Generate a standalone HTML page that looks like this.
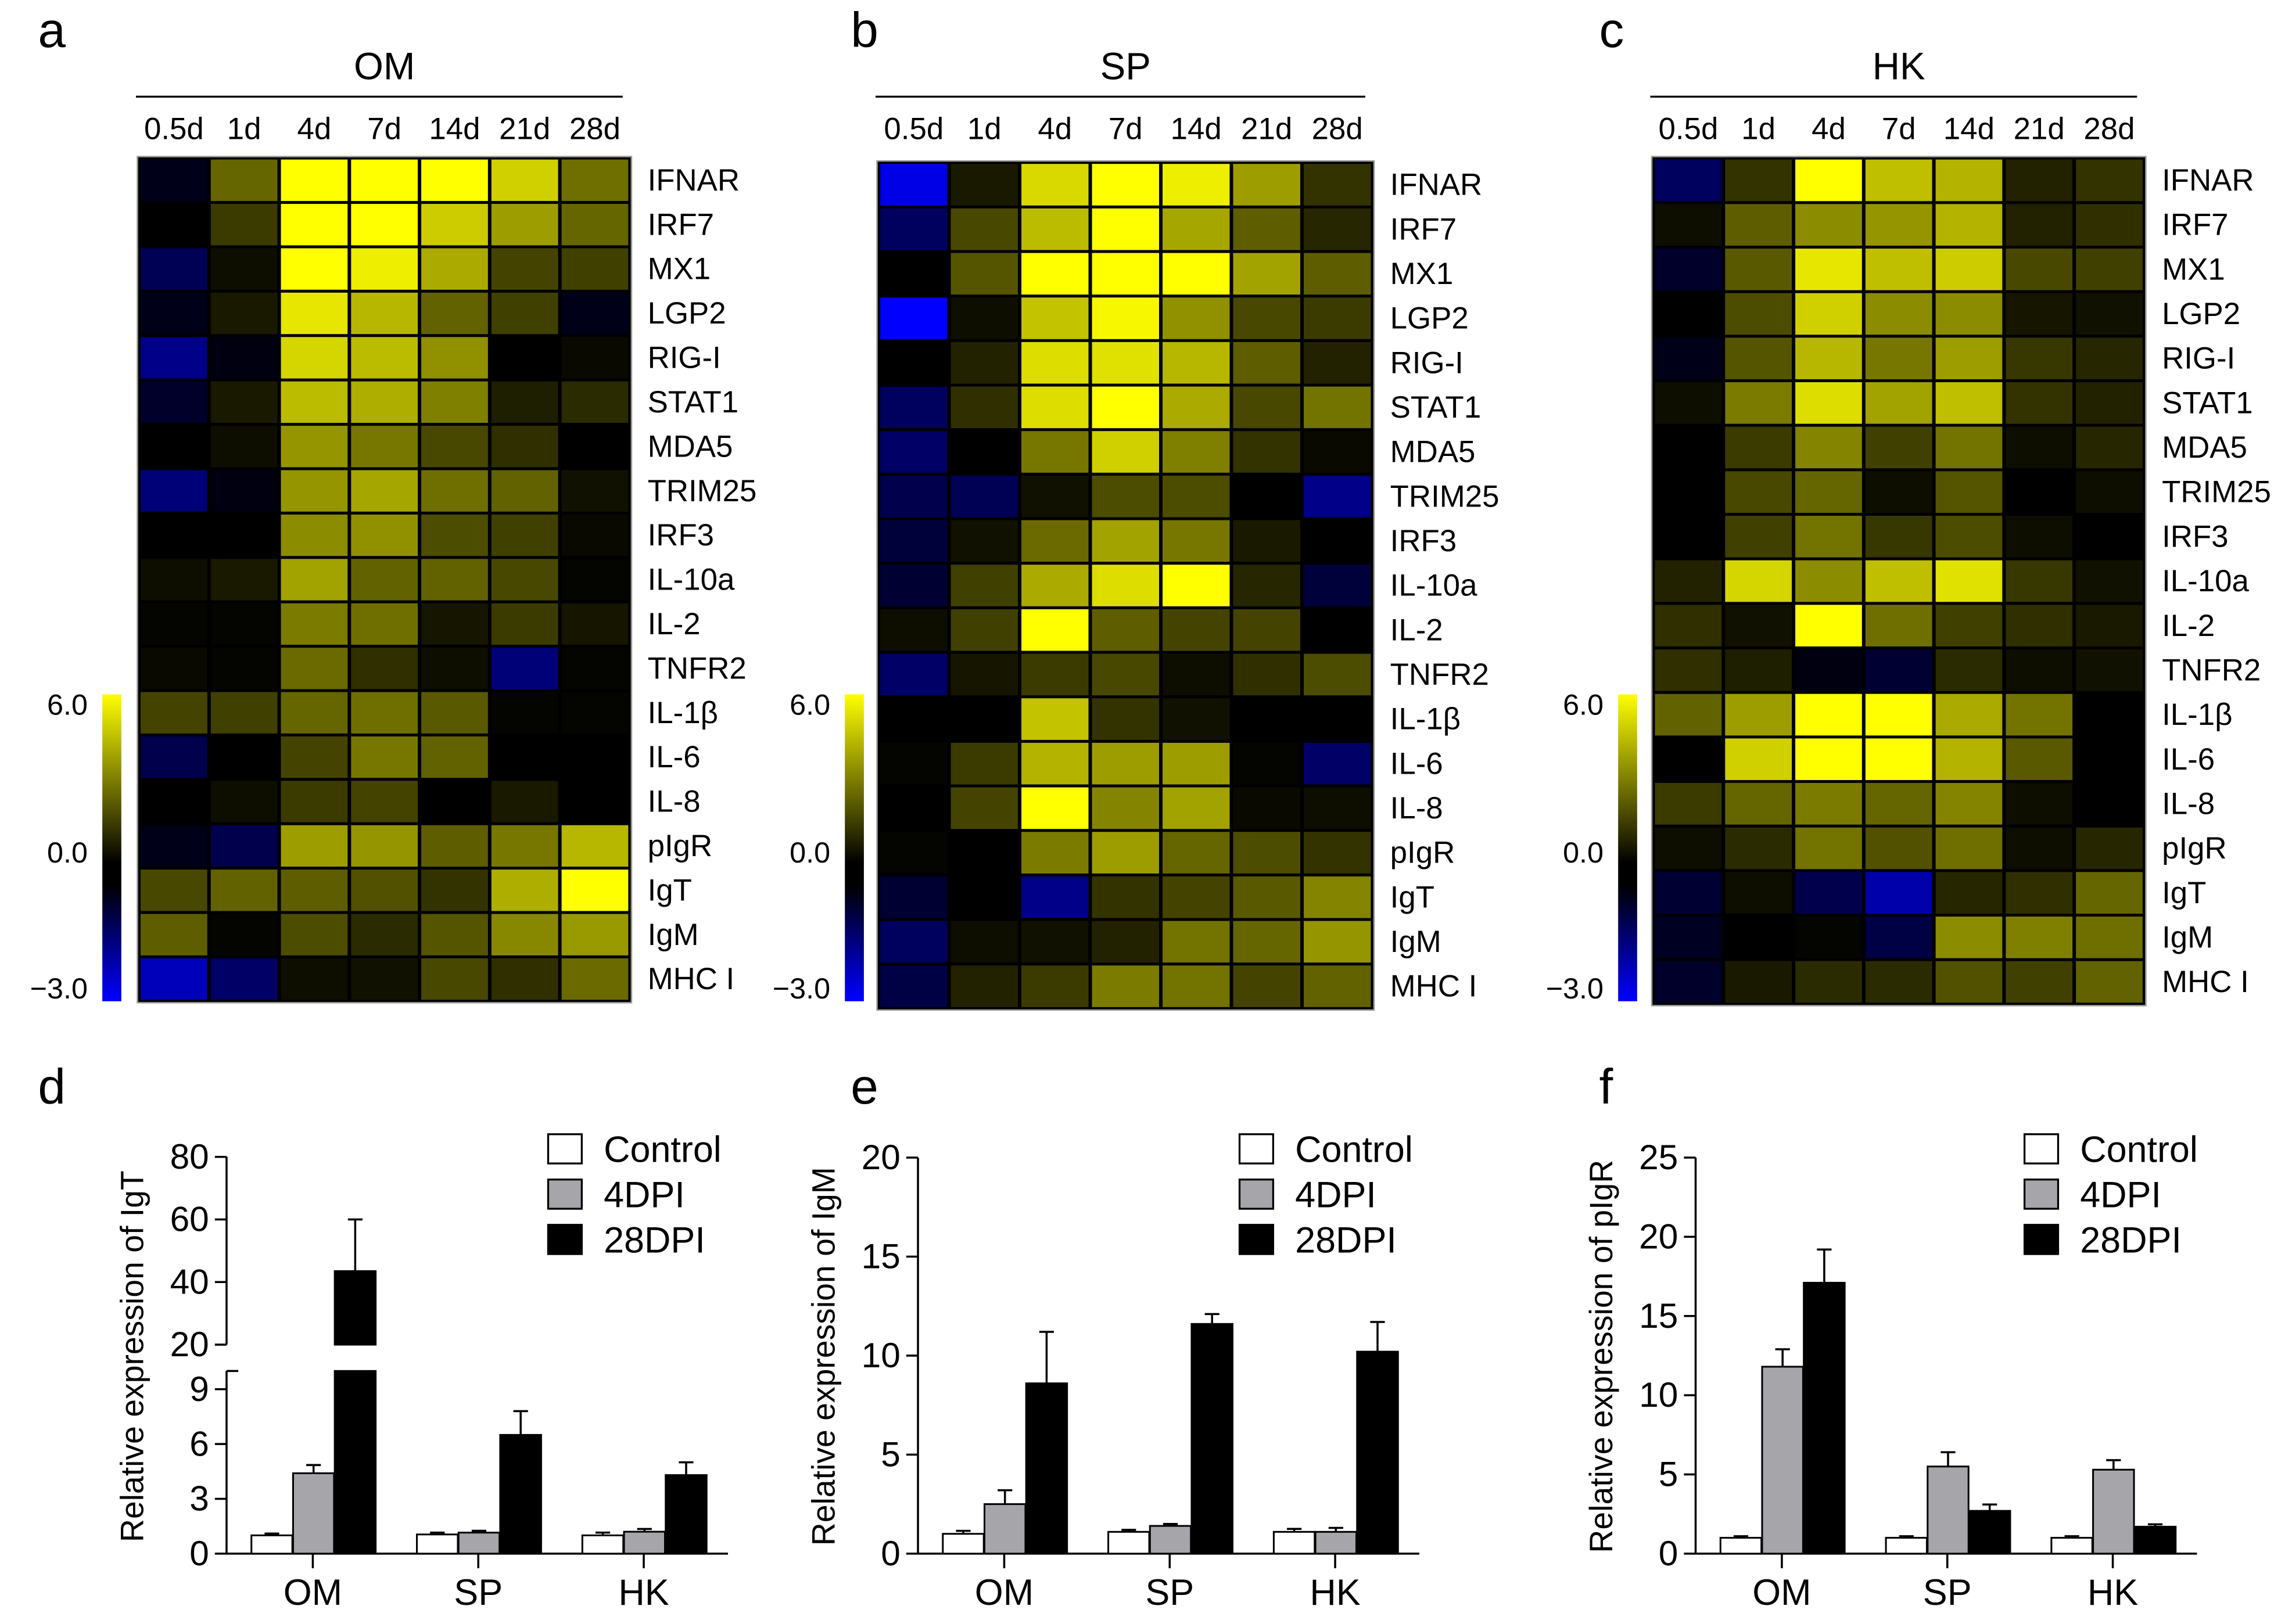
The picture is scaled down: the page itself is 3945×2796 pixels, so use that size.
<!DOCTYPE html>
<html><head><meta charset="utf-8"><style>
html,body{margin:0;padding:0;background:#fff}
svg{display:block}
text{font-family:"Liberation Sans",Arial,sans-serif;fill:#000}
</style></head><body>
<svg id="fig" width="3945" height="2796" viewBox="0 0 1568 1111" xmlns="http://www.w3.org/2000/svg">
<defs>
<linearGradient id="cbar" x1="0" y1="0" x2="0" y2="1">
<stop offset="0" stop-color="#ffff00"/><stop offset="0.55" stop-color="#000000"/><stop offset="0.62" stop-color="#000000"/><stop offset="1" stop-color="#0000ff"/>
</linearGradient>
</defs>
<g id="root"></g>
</svg>
<script>
const genes = ["IFNAR","IRF7","MX1","LGP2","RIG-I","STAT1","MDA5","TRIM25","IRF3","IL-10a","IL-2","TNFR2","IL-1β","IL-6","IL-8","pIgR","IgT","IgM","MHC I"];
const timepoints = ["0.5d","1d","4d","7d","14d","21d","28d"];
const omValues = [
[-0.3,2.4,6,6,6,4.9,2.6],[0,1.4,6,6,4.8,3.7,2.4],[-1,0.3,6,5.6,4,1.6,1.5],[-0.3,0.6,5.4,4.3,2.3,1.5,-0.3],
[-1.6,-0.2,5,4.4,3.4,0,0.2],[-0.5,0.6,4.4,4.1,3,0.7,1],[0,0.3,3.5,2.8,1.7,1.1,0],[-1.4,-0.2,3.5,3.9,2.6,2.3,0.4],
[0,0,3.3,3.4,1.8,1.5,0.2],[0.3,0.6,3.8,2.3,2.3,1.7,0.1],[0.1,0.1,2.9,2.6,0.5,1.4,0.5],[0.2,0.1,2.5,1.1,0.3,-1.4,0.1],
[1.6,1.5,2.4,2.6,2.1,0.1,0.1],[-0.9,0,1.6,2.8,2.3,0,0],[0,0.3,1.4,1.6,0,0.6,0],[-0.3,-0.9,3.7,3.5,2.2,2.8,4.3],
[1.7,2.3,2.2,1.9,1.2,4.1,6],[2.2,0.1,1.8,1.0,2.0,3.2,3.6],[-2.2,-1.2,0.3,0.4,1.7,1.1,2.5]];
const spValues = [
[-2.7,0.6,5.1,6,5.6,3.7,1.2],[-1.1,1.7,4.4,6,3.9,2.2,0.9],[0,2,6,6,6,3.8,2.2],[-3,0.3,4.6,5.8,3.4,1.7,1.4],
[0,0.8,5.2,5.3,4.3,2.2,0.8],[-1.1,1.1,5.2,6,4,1.7,2.7],[-1.2,0,2.8,4.9,3,1.2,0.2],[-0.9,-1,0.4,1.8,1.8,0,-1.6],
[-0.7,0.4,2.5,3.8,2.8,0.6,0],[-0.6,1.5,4,5.2,6,0.9,-0.7],[0.3,1.5,6,2.2,1.6,1.6,0],[-1.2,0.5,1.4,1.7,0.3,1.1,1.8],
[0,0,4.6,1.2,0.4,0,0],[0.1,1.4,4.2,3.7,3.7,0.1,-1.2],[0,1.6,6,3.1,3.8,0.2,0.3],[0.1,0,2.9,3.7,2.4,1.8,1.2],
[-0.6,0,-1.6,1.2,1.6,2.1,3.1],[-1.1,0.3,0.4,0.8,2.7,2.4,3.5],[-0.8,0.8,1.4,2.9,2.7,1.6,2.3]];
const hkValues = [
[-1.1,1.2,6,4.5,4.2,0.8,1.2],[0.3,2.2,3.3,3.5,4.2,0.8,1.1],[-0.5,2.1,5.4,4.5,4.8,1.7,1.5],[0,1.8,4.9,3.3,3.3,0.5,0.4],
[-0.3,2,4.3,2.8,3.7,1.3,0.9],[0.3,2.9,5.2,3.8,4.5,1.2,0.8],[0,1.4,3.1,1.5,2.7,0.3,0.9],[0,1.7,2.4,0.3,2,0,0.3],
[0,1.5,2.7,1.3,1.8,0.3,0],[0.8,5,3.3,4.5,5.3,1.3,0.4],[1.1,0.4,6,2.6,1.5,1.1,0.6],[1.1,0.7,-0.2,-0.6,1,0.3,0.4],
[2.3,3.7,6,6,4,2.7,0],[0,4.9,6,6,4.2,2.1,0],[1.4,2.4,2.9,2.4,3.1,0.3,0],[0.3,1,2.7,1.9,2.6,0.3,0.9],
[-0.6,0.3,-0.9,-2,0.9,1.1,2.4],[-0.4,0,0.1,-0.8,3.3,3,2.6],[-0.5,0.6,1,1,1.9,1.5,2.3]];
const colorbarTicks = ["6.0","0.0","−3.0"];
const tissues = ["OM","SP","HK"];
const seriesNames = ["Control","4DPI","28DPI"];
const igtMeans = [[1,4.4,43.5],[1.05,1.15,6.5],[1,1.2,4.3]];
const igtErrs = [[0.1,0.45,16.5],[0.1,0.1,1.3],[0.15,0.15,0.7]];
const igmMeans = [[1.0,2.5,8.6],[1.1,1.4,11.6],[1.1,1.1,10.2]];
const igmErrs = [[0.15,0.7,2.6],[0.1,0.1,0.5],[0.15,0.2,1.5]];
const pigrMeans = [[1,11.8,17.1],[1,5.5,2.7],[1,5.3,1.7]];
const pigrErrs = [[0.1,1.1,2.1],[0.1,0.9,0.4],[0.1,0.6,0.15]];
const igtTicksLow = [0,3,6,9];
const igtTicksHigh = [20,40,60,80];
const igmTicks = [0,5,10,15,20];
const pigrTicks = [0,5,10,15,20,25];

const NS="http://www.w3.org/2000/svg";
const root=document.getElementById('root');
function el(tag,attrs,parent,txt){const e=document.createElementNS(NS,tag);for(const k in attrs)e.setAttribute(k,attrs[k]);if(txt!==undefined)e.textContent=txt;(parent||root).appendChild(e);return e;}
function heatColor(v){if(v>=0){const c=Math.round(Math.min(v,6)/6*255);return `rgb(${c},${c},0)`;}const b=Math.round(Math.min(-v,3)/3*255);return `rgb(0,0,${b})`;}

function panelLetter(t,x,y){const e=el('text',{x:x,y:y,'font-size':34},root,t);

}

function heatmap(name,values,x0,y0,x1,y1,cbx,title){
  const g=el('g',{});
  
  
  const nr=genes.length,nc=timepoints.length;
  const cw=(x1-x0)/nc,rh=(y1-y0)/nr;
  const xs=c=>x0+c*cw, ys=r=>y0+r*rh;
  const t=el('text',{x:(x0+x1)/2,y:54,'font-size':26,'text-anchor':'middle'},g,title);
  
  
  const ln=el('line',{x1:x0-2,x2:x1-5,y1:66,y2:66,stroke:'#000','stroke-width':1.3},g);
  
  
  el('rect',{x:x0-1,y:y0-1,width:x1-x0+2,height:y1-y0+2,fill:'#000',stroke:'#999','stroke-width':1},g);
  timepoints.forEach((tp,c)=>{const e=el('text',{x:xs(c)+cw/2,y:95,'font-size':21,'text-anchor':'middle'},g,tp);
    
    });
  values.forEach((row,r)=>{
    row.forEach((v,c)=>{const e=el('rect',{x:xs(c)+1.2,y:ys(r)+1,width:cw-2.4,height:rh-2,fill:heatColor(v)},g);
      
      });
    const lab=el('text',{x:x1+12,y:ys(r)+rh/2+7,'font-size':21},g,genes[r]);
    
    
  });
  const cb=el('rect',{x:cbx,y:475,width:13,height:210,fill:'url(#cbar)'},g);
  
  
  [489,590,683].forEach((yy,i)=>{const e=el('text',{x:cbx-10,y:yy,'font-size':20,'text-anchor':'end'},g,colorbarTicks[i]);
    
    });
}
panelLetter('a',26,32);panelLetter('b',582,32);panelLetter('c',1094,32);
heatmap('om',omValues,95,108,431,685,70,'OM');
heatmap('sp',spValues,601,111,939,690,578,'SP');
heatmap('hk',hkValues,1131,108,1467,687,1107,'HK');

const fills=['#ffffff','#a6a5aa','#000000'];
function legend(x,g){
  seriesNames.forEach((s,i)=>{const y=776+i*31;
    const r=el('rect',{x:x,y:y,width:23,height:20,fill:fills[i],stroke:'#000','stroke-width':1.3},g);
    
    
    const t=el('text',{x:x+38,y:y+19,'font-size':25},g,s);
    
    });
}
function barChart(name,ax,means,errs,yScale,ticks,ytitle,legendX,broken){
  const g=el('g',{});
  
  
  const y0=1063, bw=28, gap=113.2, first=ax+17;
  if(broken){
    el('line',{x1:ax,x2:ax,y1:791.5,y2:920,stroke:'#000','stroke-width':1.4},g);
    el('line',{x1:ax,x2:ax,y1:938,y2:y0,stroke:'#000','stroke-width':1.4},g);
    el('line',{x1:ax,x2:ax+8,y1:938,y2:938,stroke:'#000','stroke-width':1.4},g);
  } else el('line',{x1:ax,x2:ax,y1:yScale(ticks[ticks.length-1]),y2:y0,stroke:'#000','stroke-width':1.4},g);
  const xa=el('line',{x1:ax,x2:ax+343,y1:y0,y2:y0,stroke:'#000','stroke-width':1.4},g);
  
  
  ticks.forEach(tv=>{const y=yScale(tv);
    el('line',{x1:ax-8,x2:ax,y1:y,y2:y,stroke:'#000','stroke-width':1.4},g);
    const t=el('text',{x:ax-12,y:y+8,'font-size':24,'text-anchor':'end'},g,String(tv));
    
    });
  tissues.forEach((ts,gi)=>{
    const gx=first+gi*gap;
    el('line',{x1:gx+42,x2:gx+42,y1:y0,y2:y0+10,stroke:'#000','stroke-width':1.4},g);
    const t=el('text',{x:gx+42,y:y0+35,'font-size':25,'text-anchor':'middle'},g,ts);
    
    
    means[gi].forEach((m,si)=>{
      const bx=gx+si*28.5, top=yScale(m), et=yScale(m+errs[gi][si]);
      const cx=bx+bw/2;
      el('line',{x1:cx,x2:cx,y1:et,y2:top,stroke:'#000','stroke-width':1.4},g);
      el('line',{x1:cx-5,x2:cx+5,y1:et,y2:et,stroke:'#000','stroke-width':1.4},g);
      if(broken && m>10){
        const r1=el('rect',{x:bx,y:top,width:bw,height:yScale(20)-top,fill:fills[si],stroke:'#000','stroke-width':1.2},g);
        
        
        const r2=el('rect',{x:bx,y:938,width:bw,height:y0-938,fill:fills[si],stroke:'#000','stroke-width':1.2},g);
        
        
      } else {
        const r=el('rect',{x:bx,y:top,width:bw,height:y0-top,fill:fills[si],stroke:'#000','stroke-width':1.2},g);
        
        
      }
    });
  });
  const yt=el('text',{x:0,y:0,'font-size':22,'text-anchor':'middle',transform:`translate(${ax-57},928) rotate(-90)`},g,ytitle);
  
  
  legend(legendX,g);
}
panelLetter('d',26,755);panelLetter('e',582,755);panelLetter('f',1094,755);
const igtScale=v=> v<=10 ? 1063-v*(1063-950.5)/9 : 920-(v-20)*(920-791.5)/60;
barChart('igt',155,igtMeans,igtErrs,igtScale,igtTicksLow.concat(igtTicksHigh),'Relative expression of IgT',375,true);
barChart('igm',628,igmMeans,igmErrs,v=>1063-v*(1063-792)/20,igmTicks,'Relative expression of IgM',848,false);
barChart('pigr',1160,pigrMeans,pigrErrs,v=>1063-v*(1063-792)/25,pigrTicks,'Relative expression of pIgR',1385,false);
</script>
</body></html>
